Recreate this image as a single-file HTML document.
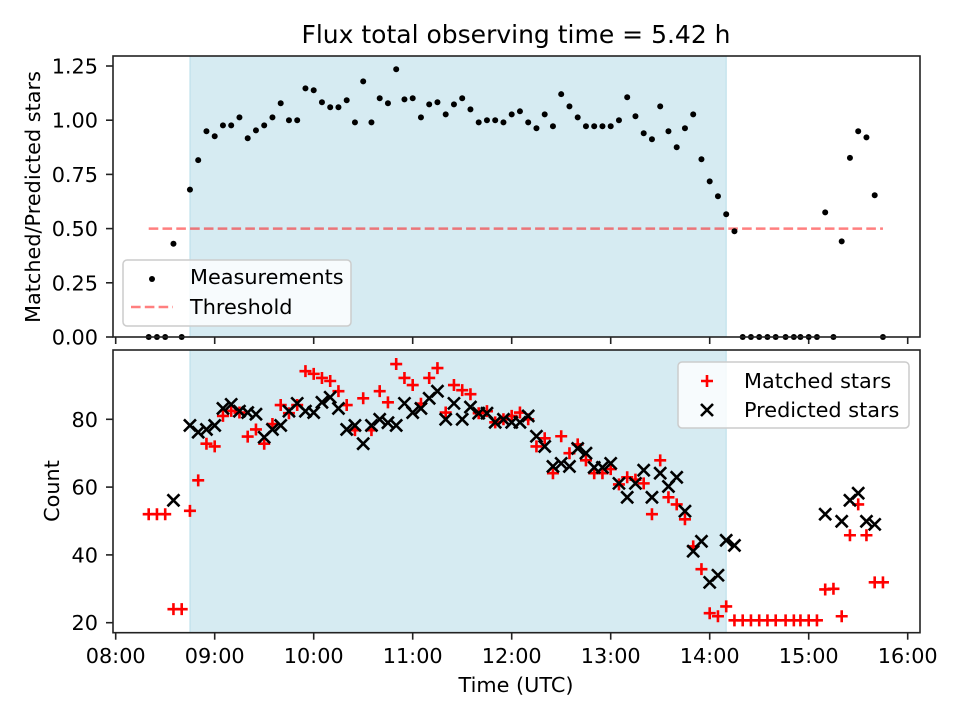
<!DOCTYPE html>
<html><head><meta charset="utf-8"><style>
html,body{margin:0;padding:0;background:#fff}
svg{display:block;font-family:"DejaVu Sans","Liberation Sans",sans-serif}
</style></head><body>
<svg id="chart" width="960" height="720" viewBox="0 0 960 720" xmlns="http://www.w3.org/2000/svg">
<rect x="0" y="0" width="960" height="720" fill="#fff"/>
<text x="516" y="43" font-size="25" text-anchor="middle" fill="#000">Flux total observing time = 5.42 h</text>
<g id="top"></g><g id="bot"></g>
</svg>
<script>
// times in minutes after 08:00
const ratioTimes=[20,25,30,35,40,45,50,55,60,65,70,75,80,85,90,95,100,105,110,115,120,125,130,135,140,145,150,155,160,165,170,175,180,185,190,195,200,205,210,215,220,225,230,235,240,245,250,255,260,265,270,275,280,285,290,295,300,305,310,315,320,325,330,335,340,345,350,355,360,365,370,375,380,385,390,395,400,406,411,415,420,425,430,435,440,445,450,455,460,465];
const ratioValues=[0,0,0,0.43,0,0.68,0.816,0.949,0.926,0.976,0.976,1.013,0.917,0.953,0.976,1.013,1.078,1.0,1.0,1.147,1.138,1.083,1.06,1.06,1.092,0.99,1.179,0.99,1.101,1.078,1.235,1.096,1.101,1.013,1.073,1.083,1.027,1.073,1.101,1.05,0.99,1.0,1.0,0.99,1.027,1.041,0.99,0.963,1.027,0.972,1.12,1.064,1.013,0.972,0.972,0.972,0.972,1.0,1.106,1.018,0.94,0.912,1.064,0.949,0.875,0.963,1.027,0.82,0.718,0.649,0.566,0.488,0,0,0,0,0,0,0,0,0,0,0.575,0,0.441,0.826,0.949,0.921,0.654,0];
const threshold=0.5;
const thresholdRange=[20,465];
const shadeRange=[45,370];
const matchedTimes=ratioTimes;
const matchedValues=[52,52,52,24,24,53,62,72.8,72,81,82.5,82,74.9,77,72.8,78.6,84.2,81.8,84.2,94.2,93.4,92.2,91.3,88.3,84.2,76.8,86.2,76.8,88.3,85,96.3,92.2,90.1,84.6,92.2,95.1,82,90.1,88.6,87.4,81.8,82.4,79.1,80,81,82,80,72,74.4,64.1,75,70,72.6,67.9,64.1,64.1,65.3,60.8,62.9,62.2,61.1,52,67.9,57,54.9,50.5,42.5,35.8,22.8,21.9,24.8,20.7,20.7,20.7,20.7,20.7,20.7,20.7,20.7,20.7,20.7,20.7,29.8,30,21.9,45.8,54.9,45.8,31.9,31.9];
const predTimes=[35,45,50,55,60,65,70,75,80,85,90,95,100,105,110,115,120,125,130,135,140,145,150,155,160,165,170,175,180,185,190,195,200,205,210,215,220,225,230,235,240,245,250,255,260,265,270,275,280,285,290,295,300,305,310,315,320,325,330,335,340,345,350,355,360,365,370,375,430,440,445,450,455,460];
const predValues=[56.1,78.2,76.2,77,78.2,83.2,84.4,82.4,82,81.5,74.7,77,78.2,82.4,84.7,82.4,82,85,86.5,83.2,77,78.2,72.8,78.2,80,79,78.2,84.7,82,83.2,86.2,88.3,80,84.7,80,83.6,81.8,81.8,79.1,80,79.1,79.1,81,75,72,66.1,67,66.1,71.4,70,65.8,65.8,67,61.1,57,61.1,65,57,64.1,60.2,62.9,52.9,41.1,44,31.9,34,44.3,42.8,52,49.9,56.1,58.2,49.9,49];
const xTicks=[0,60,120,180,240,300,360,420,480];
const xTickLabels=["08:00","09:00","10:00","11:00","12:00","13:00","14:00","15:00","16:00"];
const topTicks=[0,0.25,0.5,0.75,1.0,1.25];
const topTickLabels=["0.00","0.25","0.50","0.75","1.00","1.25"];
const botTicks=[20,40,60,80];
const botTickLabels=["20","40","60","80"];

const NS="http://www.w3.org/2000/svg";
const L=113,R=920,FS=20.8;
const X=t=>115.7+t*99/60;
const YT=v=>337-v*216.8;
const YB=v=>622.7-(v-20)*3.39;
function mk(parent,tag,attrs){const e=document.createElementNS(NS,tag);for(const k in attrs)e.setAttribute(k,attrs[k]);parent.appendChild(e);return e;}
function txt(parent,x,y,s,attrs){const e=mk(parent,'text',Object.assign({x:x,y:y,'font-size':FS,fill:'#000'},attrs||{}));e.textContent=s;return e;}

function axes(g,top,bottom,yFn,ticks,labels,name){
  const sh=mk(g,'rect',{x:X(shadeRange[0]),y:top,width:X(shadeRange[1])-X(shadeRange[0]),height:bottom-top,fill:'#add8e6','fill-opacity':0.5,stroke:'#add8e6','stroke-opacity':0.8});
  
  
  xTicks.forEach((t,i)=>{
    const tk=mk(g,'line',{x1:X(t),x2:X(t),y1:bottom,y2:bottom+7,stroke:'#222','stroke-width':1.6});
    
    
    if(name==='bottom'){
      const tl=txt(g,X(t),663,xTickLabels[i],{'text-anchor':'middle'});
      
      
    }
  });
  ticks.forEach((v,i)=>{
    const y=yFn(v);
    const tk=mk(g,'line',{x1:L-7,x2:L,y1:y,y2:y,stroke:'#222','stroke-width':1.6});
    
    
    const tl=txt(g,98,y+7.5,labels[i],{'text-anchor':'end'});
    
    
  });
}
function frame(g,top,bottom,name){
  const f=mk(g,'rect',{x:L,y:top,width:R-L,height:bottom-top,fill:'none',stroke:'#222','stroke-width':1.6});
  
  
}

// TOP
const gt=document.getElementById('top');
axes(gt,56,337,YT,topTicks,topTickLabels,'top');
const th=mk(gt,'line',{x1:X(thresholdRange[0]),x2:X(thresholdRange[1]),y1:YT(threshold),y2:YT(threshold),stroke:'#ff0000','stroke-opacity':0.5,'stroke-width':2.5,'stroke-dasharray':'9.6,4.2'});


ratioTimes.forEach((t,i)=>{
  const c=mk(gt,'circle',{cx:X(t),cy:YT(ratioValues[i]),r:3,fill:'#000'});
  
  
});
frame(gt,56,337,'top');
const yl1=txt(gt,0,0,'Matched/Predicted stars',{'text-anchor':'middle','transform':'translate(40,197) rotate(-90)'});


// top legend
const lg1=mk(gt,'g',{});


mk(lg1,'rect',{x:123,y:260,width:228,height:66,rx:4,fill:'#fff','fill-opacity':0.8,stroke:'#ccc','stroke-width':1.5});
const le1=mk(lg1,'circle',{cx:152,cy:279,r:3,fill:'#000'});


txt(lg1,190,284,'Measurements');
const le2=mk(lg1,'line',{x1:131,x2:173,y1:307,y2:307,stroke:'#ff0000','stroke-opacity':0.5,'stroke-width':2.5,'stroke-dasharray':'9.6,4.2'});


txt(lg1,190,314,'Threshold');

// BOTTOM
const gb=document.getElementById('bot');
axes(gb,350,632.7,YB,botTicks,botTickLabels,'bottom');
function plus(g,x,y){const p=mk(g,'path',{d:`M${x-6},${y}H${x+6}M${x},${y-6}V${y+6}`,stroke:'#ff0000','stroke-width':2.6,fill:'none'});return p;}
function cross(g,x,y){const p=mk(g,'path',{d:`M${x-6},${y-6}L${x+6},${y+6}M${x-6},${y+6}L${x+6},${y-6}`,stroke:'#000','stroke-width':2.6,fill:'none'});return p;}
matchedTimes.forEach((t,i)=>{
  const p=plus(gb,X(t),YB(matchedValues[i]));
  
  
});
predTimes.forEach((t,i)=>{
  const p=cross(gb,X(t),YB(predValues[i]));
  
  
});
frame(gb,350,632.7,'bottom');
const yl2=txt(gb,0,0,'Count',{'text-anchor':'middle','transform':'translate(59,491) rotate(-90)'});


const xl=txt(gb,516,692,'Time (UTC)',{'text-anchor':'middle'});


const lg2=mk(gb,'g',{});


mk(lg2,'rect',{x:678,y:362,width:231,height:66,rx:4,fill:'#fff','fill-opacity':0.8,stroke:'#ccc','stroke-width':1.5});
const lm=plus(lg2,707,381);


txt(lg2,744,388,'Matched stars');
const lp=cross(lg2,707,410);


txt(lg2,744,417,'Predicted stars');
</script>
</body></html>
